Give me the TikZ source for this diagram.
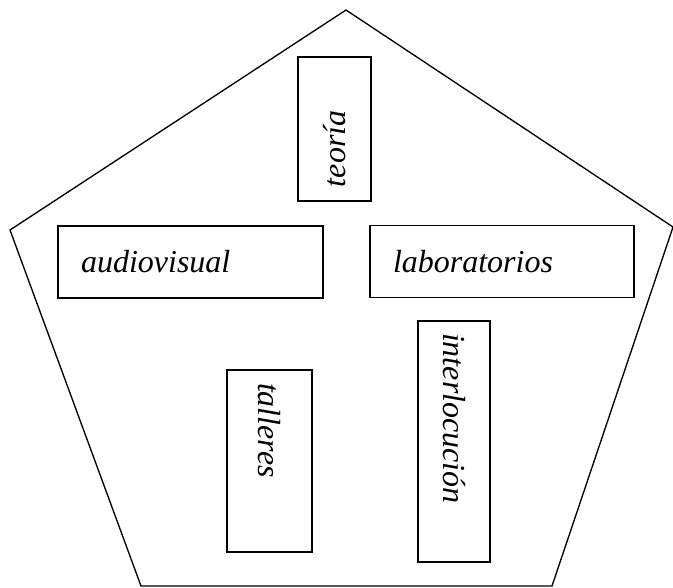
\documentclass[tikz,border=0pt]{standalone}
\usepackage{fontspec}
\setmainfont{Liberation Serif}
\usetikzlibrary{calc,positioning}

\begin{document}
\begin{tikzpicture}[x=0.75pt,y=-0.75pt,
        box/.style={draw,line width=1.2pt,rectangle,align=left,inner ysep=0pt,
            font=\itshape\fontsize{24}{28}\selectfont}]
        \useasboundingbox (0,0) rectangle (673,587);
        %pentagon
        \coordinate (top) at (346,10);
        \coordinate (right) at (673,227);
        \coordinate (br) at (552,586);
        \coordinate (bl) at (141,586);
        \coordinate (left) at (10,230);
        \draw[line width=1pt,line join=miter] (top) -- (right) -- (br) -- (bl) -- (left) -- cycle;

        %nodes
        \begin{scope}
            \node[box,rotate=90,inner xsep=10.5pt,text width=87pt,minimum height=54.75pt] (teoria) at (334.5,129) {teoría};
            \node[box,inner xsep=17.25pt,text width=164.25pt,minimum height=54pt] (audio) at (190.5,262) {audiovisual};
            \node[box,inner xsep=17.25pt,text width=163.5pt,minimum height=54pt] (lab) at (502,261.5) {laboratorios};
            \node[box,rotate=-90,inner xsep=9pt,text width=162.75pt,minimum height=54pt] (inter) at (454,441.5) {interlocución};
            \node[box,rotate=-90,inner xsep=9.75pt,text width=117pt,minimum height=63.75pt] (talleres) at (269.5,461) {talleres};
        \end{scope}
\end{tikzpicture}
\end{document}
